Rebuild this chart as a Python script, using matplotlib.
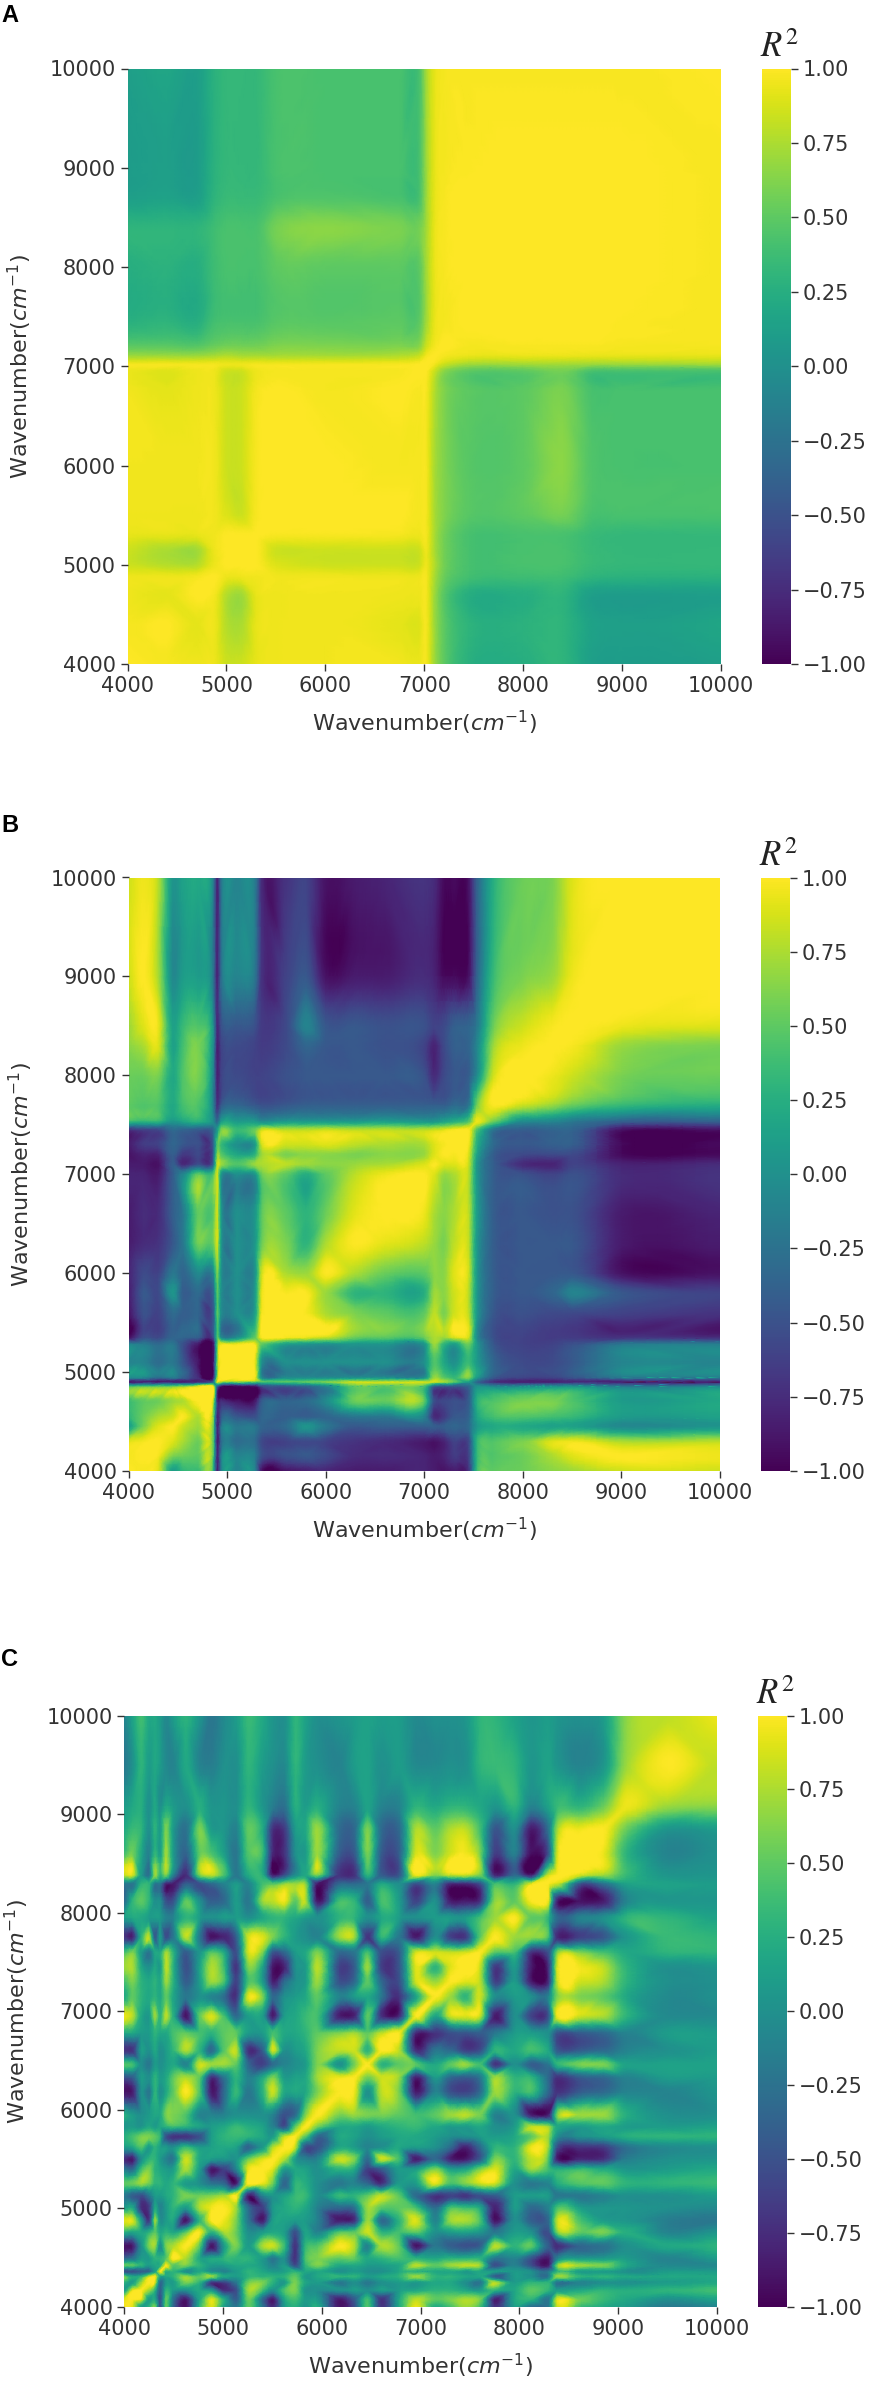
import numpy as np
import matplotlib
matplotlib.use("Agg")
import matplotlib.pyplot as plt
import matplotlib.tri as mtri

# Grid positions (cm^-1) and lower-triangle R^2 values.
nodes_a = [4000,4400,4700,4880,5000,5150,5300,5500,6000,6750,6950,7020,7100,7200,7450,8000,8400,8700,9000,10000]
rows_a = [
 [1],
 [.97,1],
 [.95,.92,1],
 [.95,.95,.97,1],
 [.85,.78,.78,.95,1],
 [.85,.75,.72,.95,1,1],
 [.93,.93,.93,.96,1,1,1],
 [.95,.95,.95,.96,.9,.85,.98,1],
 [.96,.96,.96,.96,.85,.85,.98,1,1],
 [.96,.92,.95,.95,.85,.85,.97,1,.97,1],
 [.94,.9,.95,.95,.85,.85,.95,.97,.97,.98,1],
 [.97,.97,.97,.97,.95,.95,.97,.97,.97,.98,1,1],
 [.72,.72,.72,.75,.78,.75,.75,.75,.75,.78,.85,.97,1],
 [.5,.5,.48,.55,.58,.58,.58,.62,.62,.62,.65,.85,.97,1],
 [.27,.3,.25,.4,.42,.42,.42,.48,.48,.5,.5,.72,.93,.97,1],
 [.25,.28,.25,.38,.42,.42,.42,.5,.5,.5,.5,.72,.93,.98,1,1],
 [.3,.3,.3,.38,.42,.42,.42,.58,.65,.6,.58,.72,.93,.98,1,1,1],
 [.12,.15,.12,.3,.35,.35,.35,.42,.45,.42,.42,.7,.92,.98,1,1,1,1],
 [.1,.12,.1,.28,.33,.33,.33,.42,.42,.42,.42,.7,.92,.97,.99,1,1,1,1],
 [.12,.18,.12,.28,.33,.33,.33,.42,.42,.42,.42,.72,.92,.97,.98,.98,.98,.98,.98,1],
]

nodes_b = [4000,4150,4300,4450,4550,4700,4860,4900,4940,5100,5280,5350,5600,5800,6000,6300,6600,7000,7100,7200,7300,7450,7530,7700,8000,8300,8500,9000,10000]
rows_b = [
 [1],
 [.97,1],
 [.9,.97,1],
 [.1,.6,.9,1],
 [.3,.55,.75,.85,1],
 [.35,.5,.55,.7,.75,1],
 [.35,.45,.45,.5,.6,.85,1],
 [-.85,-.8,-.85,-.8,-.8,-.7,-.3,1],
 [-.1,-.1,-.3,-.2,-.4,-.7,-.85,.8,1],
 [-.1,-.1,-.3,-.2,-.45,-.85,-.9,.7,1,1],
 [-.1,-.15,-.3,-.2,-.5,-.85,-.85,.6,.97,.97,1],
 [-.9,-.5,-.55,-.35,-.35,-.4,-.5,.5,.0,.0,.5,1],
 [-.9,-.5,-.6,-.3,-.4,-.35,-.4,.5,.0,.0,.1,.97,1],
 [-.85,-.45,-.55,.05,-.4,-.3,-.3,.5,0,.0,.05,.95,.98,1],
 [-.8,-.55,-.6,-.2,-.35,-.05,-.05,.6,0,0,.0,.85,.75,.7,1],
 [-.85,-.75,-.7,-.45,-.2,.55,.55,.85,.05,0,.05,.55,.6,.3,.75,1],
 [-.85,-.75,-.75,-.4,-.2,.5,.5,.85,.05,0,.05,.5,.5,.3,.55,.92,1],
 [-.8,-.8,-.85,-.4,-.1,.5,.45,.85,.05,0,.05,.55,.5,.25,.5,.8,.95,1],
 [-.85,-.85,-.9,-.4,-.75,-.5,-.3,.85,.7,.45,.7,.75,.8,.7,.65,.7,.75,.9,1],
 [-.9,-.8,-.8,-.4,-.65,-.55,-.4,.7,.5,.2,.3,.7,.6,.65,.65,.6,.65,.7,.9,1],
 [-.85,-.65,-.6,-.35,-.45,-.5,-.4,.5,.35,.0,.1,.85,.85,.85,.9,.8,.75,.75,.9,.98,1],
 [-.7,-.6,-.55,-.3,-.35,-.4,-.3,.1,.6,.35,.55,.85,.8,.8,.85,.8,.8,.8,.85,.9,.98,1],
 [.35,.3,.3,.05,.15,.25,0,-.3,.1,.1,.1,0,.1,.1,.1,.1,.15,.1,.1,.2,.3,.5,.95],
 [.5,.45,.45,.2,.4,.45,-.1,-.7,-.45,-.35,-.45,-.5,-.45,-.4,-.4,-.4,-.4,-.4,-.4,-.4,-.3,-.2,.55,1],
 [.55,.55,.6,.2,.45,.6,-.1,-.8,-.6,-.55,-.6,-.6,-.5,-.45,-.45,-.45,-.45,-.5,-.75,-.55,-.45,-.4,-.05,.85,1],
 [.65,.75,.9,.15,.4,.6,-.05,-.8,-.6,-.55,-.6,-.65,-.55,-.35,-.45,-.45,-.5,-.6,-.8,-.55,-.4,-.35,-.1,.7,.95,1],
 [.7,.9,.95,.15,.35,.45,0,-.75,-.5,-.45,-.5,-.65,-.55,-.1,-.45,-.45,-.5,-.5,-.6,-.55,-.4,-.35,-.2,.55,.85,.98,1],
 [.85,1,.75,-.05,.1,.1,-.2,-.8,-.25,-.1,-.2,-.7,-.6,-.45,-.9,-.85,-.85,-.75,-.8,-.95,-.95,-.9,-.4,.35,.6,.7,.95,1],
 [.85,.95,.8,.05,.15,.2,-.1,-.8,-.2,-.1,-.15,-.75,-.7,-.6,-.9,-.85,-.8,-.7,-.75,-.95,-.95,-.9,-.4,.25,.55,.6,.9,1,1],
]

nodes_c = [4000,4080,4170,4250,4310,4360,4420,4490,4620,4760,4880,5010,5130,5250,5400,5500,5620,5730,5830,5950,
           6180,6330,6460,6600,6780,6950,7150,7300,7450,7600,7750,7950,8120,8290,8380,8620,8850,9080,9500,10000]
rows_c = [
 [1],
 [.9,1],
 [.1,.9,1],
 [.3,.1,.7,1],
 [.6,.2,.3,.9,1],
 [-.5,-.5,-.4,-.3,.2,1],
 [.5,.5,.3,.1,.2,.3,1],
 [-.3,-.2,.1,.1,.3,.3,.5,1],
 [-.9,-.85,.0,.6,.7,0,.6,.75,1],
 [.3,.2,.2,.3,.5,.2,.3,.2,.5,1],
 [.9,.9,.1,-.65,.7,0,.1,.2,-.9,.3,1],
 [.1,.2,-.7,-.6,.2,-.1,.1,.3,.1,.75,.95,1],
 [-.2,-.4,-.5,-.2,.1,.1,.2,.3,.6,.55,.6,.7,1],
 [.5,.55,.7,.55,.3,.3,.2,.3,.1,.0,-.2,-.3,-.8,1],
 [-.2,-.3,.4,.6,.3,.2,.1,.1,.75,.1,-.85,-.6,-.1,.9,1],
 [-.75,-.85,.0,.3,.3,.1,-.1,-.2,.85,.2,.1,.05,.05,.55,.9,1],
 [.1,.2,.45,.1,.3,.15,.1,.0,.35,.1,.15,.2,.15,-.35,.1,.75,1],
 [.25,.4,.6,.6,.5,.3,-.5,-.7,-.7,-.5,.1,.3,.35,.3,.2,.1,.8,1],
 [.05,.1,.05,.2,.1,.2,.3,.4,.3,.15,.1,.2,.35,.25,.15,-.1,-.5,.5,1],
 [.25,.1,.0,.1,.2,.2,.6,.6,.45,-.1,-.1,-.1,.0,.0,.0,-.1,-.5,-.3,.6,1],
 [-.9,-.85,.0,-.2,.3,0,.2,.5,1,.45,-.85,-.3,.35,-.2,.3,.85,.2,.2,.2,.6,1],
 [-.5,-.4,.1,0,.3,.1,.2,.5,.75,.5,-.7,-.2,.3,-.1,.2,.6,.1,.15,.2,.7,.95,1],
 [.45,.4,.0,-.2,.1,.0,.1,.2,-.1,.85,.7,.7,.5,-.3,-.6,-.3,-.1,.0,.1,.6,.0,.6,1],
 [-.7,-.7,.1,.0,.2,.0,.1,.3,.75,.3,-.3,.5,.8,-.7,-.4,.85,.0,.1,.2,.6,.8,.85,.3,1],
 [.2,.2,.1,.1,.3,.2,.2,.4,.5,.4,.3,.5,.5,.1,.1,.4,.2,.2,.3,.5,.6,.7,.5,.8,1],
 [.95,.8,.2,.1,.7,.3,.8,.3,-.9,.5,.9,.4,-.3,.1,.1,-.85,.1,.2,.35,.4,-.85,-.8,.5,-.7,-.75,1],
 [.2,.5,.3,.2,.3,.2,.5,.2,-.2,0,-.1,-.3,-.7,.9,.6,-.3,0,.1,.2,.5,-.1,.1,.2,-.2,-.7,.15,1],
 [.4,.6,.3,.2,.3,.2,.7,.3,-.4,.1,.7,.4,-.6,.4,.1,-.8,-.3,0,.1,.7,-.5,-.3,.5,-.3,-.5,.85,.7,1],
 [.7,.75,.2,0,.2,.1,.8,.3,-.5,.15,.75,.35,-.7,.6,.15,-.85,-.8,0,.1,.8,-.6,-.4,.7,-.6,-.45,.9,.3,.9,1],
 [.4,.6,.1,-.2,.2,.2,.7,.3,-.4,.05,.45,.2,-.5,.85,.6,-.4,-.3,.1,.2,.6,-.3,-.2,.4,-.5,-.4,.85,.85,.8,.85,1],
 [-.7,-.8,.3,.8,-.4,.1,-.5,-.2,.8,-.2,-.9,-.8,-.4,.85,.9,.6,.3,.1,0,-.1,.7,.7,-.7,.3,-.2,-.85,0,-.6,-.65,.5,1],
 [.1,.2,.2,.1,.1,.1,-.1,-.1,.3,.1,0,.1,.1,0,.2,.3,.3,.2,.1,0,.3,.3,0,.2,.1,0,.1,.1,.1,.4,.7,1],
 [-.3,.3,.5,.3,0,0,-.5,-.5,.5,0,-.4,-.3,.1,-.2,.7,.8,.95,.5,.8,-.85,.4,.3,-.4,.4,.1,-.6,0,-.85,-.85,-.7,.65,.5,1],
 [-.2,-.2,.3,.3,-.2,-.2,-.8,-.85,-.4,-.5,-.3,-.1,.1,-.1,.4,.5,.7,.7,.7,-.85,-.3,-.3,-.2,.2,0,-.5,-.1,-.75,-.75,-.5,.4,.3,.95,1],
 [.8,.85,.1,-.2,.7,.3,.6,-.1,-.75,.6,.8,.4,-.2,.2,.25,-.8,-.5,0,.2,.6,-.7,-.7,.3,-.4,-.45,.95,.6,.8,.85,.6,-.75,-.3,-.8,.85,1],
 [.35,.55,.2,-.1,.3,.1,.7,.1,-.35,.5,.4,.1,-.2,.45,.35,-.75,-.7,0,.1,.7,-.4,-.4,.6,-.4,-.4,.85,.6,.85,.95,.6,-.6,-.1,-.9,-.5,.85,1],
 [.2,.35,.3,0,.3,.1,.6,.1,-.25,.6,.1,.05,-.1,.5,.2,-.7,-.65,.1,.2,.7,-.3,-.3,.6,-.3,-.3,.75,.5,.75,.8,.4,-.45,0,-.85,-.25,.7,.95,1],
 [.1,.2,.25,0,.2,0,.2,.1,0,.25,.05,.05,0,.3,.05,-.15,-.25,.25,.1,.25,-.1,-.1,.15,-.1,-.1,.3,.2,.3,.3,.2,.05,.3,-.1,.15,.35,.3,.55,.95],
 [-.2,0,.3,.1,.2,.1,-.05,-.1,.2,-.1,-.15,0,0,.3,.1,0,-.05,.3,.1,0,-.1,.1,.15,0,.1,-.05,-.05,0,0,.3,.35,.3,.05,.15,.05,-.1,.05,.7,1],
 [-.1,.15,.4,.2,.2,.1,-.05,.1,.3,.05,-.2,-.05,.1,.35,.2,.05,0,.3,.15,0,.05,.1,.15,.1,.1,-.05,0,0,.05,.3,.3,.15,.05,.1,.05,0,.1,.65,.8,.95],
]

axis_ticks = [4000, 5000, 6000, 7000, 8000, 9000, 10000]
cbar_ticks = [-1.0, -0.75, -0.5, -0.25, 0.0, 0.25, 0.5, 0.75, 1.0]
cbar_labels = ["\u22121.00", "\u22120.75", "\u22120.50", "\u22120.25", "0.00", "0.25", "0.50", "0.75", "1.00"]
panel_letters = ["A", "B", "C"]

W, H = 886, 2383
TEXT = "#333333"


def symmetric(rows, nodes):
    """Mirror a lower-triangle list of rows into the full square matrix."""
    n = len(nodes)
    m = np.zeros((n, n))
    for i, r in enumerate(rows):
        if len(r) != i + 1:
            raise ValueError(f"row {i}: {len(r)} values")
        m[i, :i + 1] = r
        m[:i + 1, i] = r
    return m


def px_axes(l, t, r, b):
    return [l / W, 1 - b / H, (r - l) / W, (b - t) / H]


fig = plt.figure(figsize=(W / 100, H / 100), dpi=100, facecolor="white")

layout = [
    # axes (l, t, r, b), colourbar (l, r), letter y
    ((127.5, 68.5, 721, 664), (762, 791), 16),
    ((128.5, 877.5, 720, 1471), (760.5, 790), 825),
    ((124.5, 1715.5, 717, 2307), (758, 787), 1660),
]
panels = [(nodes_a, rows_a), (nodes_b, rows_b), (nodes_c, rows_c)]

for letter, (nodes, rows), (box, cb, ly) in zip(panel_letters, panels, layout):
    ax = fig.add_axes(px_axes(*box))
    gx, gy = np.meshgrid(nodes, nodes)
    tr = mtri.Triangulation(gx.ravel(), gy.ravel())
    z = symmetric(rows, nodes).ravel()
    # library's smooth shading between the read grid values
    interp = mtri.CubicTriInterpolator(tr, z, kind="geom")
    fine_tr, fine_z = mtri.UniformTriRefiner(tr).refine_field(z, triinterpolator=interp, subdiv=3)
    mesh = ax.tripcolor(fine_tr, fine_z, cmap="viridis", vmin=-1, vmax=1, shading="gouraud")
    ax.set_xlim(4000, 10000)
    ax.set_ylim(4000, 10000)
    for s in ax.spines.values():
        s.set_visible(False)
    ax.set_xticks(axis_ticks)
    ax.set_yticks(axis_ticks)
    ax.tick_params(labelsize=15, length=5, width=1, colors=TEXT)
    ax.set_xlabel(r"Wavenumber($cm^{-1}$)", fontsize=16, color=TEXT)
    ax.set_ylabel(r"Wavenumber($cm^{-1}$)", fontsize=16, color=TEXT)
    ax.xaxis.set_label_coords(0.5, -0.075)
    ax.yaxis.set_label_coords(-0.158, 0.5)

    cax = fig.add_axes(px_axes(cb[0], box[1], cb[1], box[3]))
    cbar = fig.colorbar(mesh, cax=cax)
    cbar.outline.set_visible(False)
    cbar.set_ticks(cbar_ticks, labels=cbar_labels)
    cax.tick_params(labelsize=15, length=5, width=1, colors=TEXT)
    cax.text(0.62, 1.008, r"$R^2$", transform=cax.transAxes, ha="center", va="bottom",
             fontsize=25, color="#222222", math_fontfamily="stix")

    fig.text(1 / W, 1 - ly / H, letter, fontsize=17, fontweight="bold",
             family="Liberation Sans", color="black", ha="left", va="center")

fig.savefig("out.png", dpi=100, facecolor="white")
